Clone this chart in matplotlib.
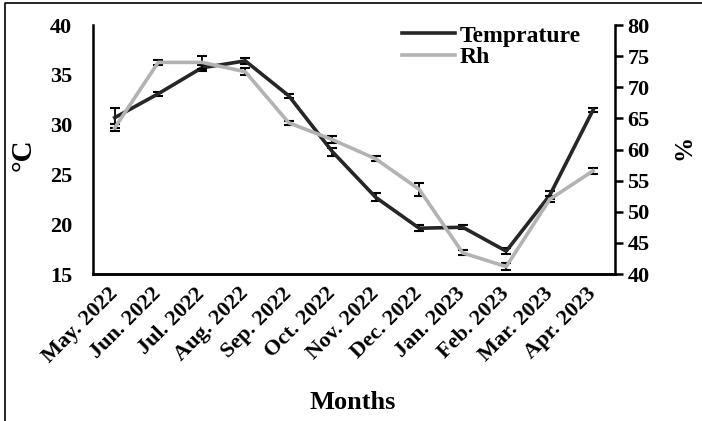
import matplotlib
matplotlib.use("Agg")
import matplotlib.pyplot as plt
from matplotlib.lines import Line2D

months = ["May. 2022", "Jun. 2022", "Jul. 2022", "Aug. 2022", "Sep. 2022", "Oct. 2022",
          "Nov. 2022", "Dec. 2022", "Jan. 2023", "Feb. 2023", "Mar. 2023", "Apr. 2023"]
temp = [30.7, 33.1, 35.7, 36.4, 32.9, 27.3, 22.7, 19.6, 19.7, 17.3, 22.9, 31.5]
temp_err = [1.0, 0.2, 0.3, 0.3, 0.2, 0.4, 0.4, 0.3, 0.2, 0.3, 0.4, 0.2]
rh = [63.5, 74.0, 74.0, 72.5, 64.3, 61.6, 58.5, 53.6, 43.4, 41.2, 52.0, 56.6]
rh_err = [0.6, 0.4, 1.1, 0.6, 0.3, 0.5, 0.4, 1.0, 0.4, 0.6, 0.5, 0.5]

plt.rcParams["font.family"] = "Liberation Serif"
plt.rcParams["font.weight"] = "bold"

fig = plt.figure(figsize=(7.02, 4.21), dpi=100)
ax = fig.add_axes([0.1325, 0.349, 0.7435, 0.5916])
ax2 = ax.twinx()

x = list(range(len(months)))

# error bars first, lines on top
ax.errorbar(x, temp, yerr=temp_err, fmt="none", ecolor="black", elinewidth=1.3,
            capsize=3.6, capthick=1.5, zorder=1)
l1, = ax.plot(x, temp, color="#262626", lw=2.6, label="Temprature", zorder=2)
ax2.errorbar(x, rh, yerr=rh_err, fmt="none", ecolor="black", elinewidth=1.3,
             capsize=3.6, capthick=1.5, zorder=1)
l2, = ax2.plot(x, rh, color="#b3b3b3", lw=2.6, label="Rh", zorder=2)

ax.set_xlim(-0.5, len(months) - 0.5)
ax.set_ylim(15, 40)
ax2.set_ylim(40, 80)
ax.set_yticks(range(15, 41, 5))
ax2.set_yticks(range(40, 81, 5))

for a in (ax, ax2):
    a.spines["top"].set_visible(False)
    for s in a.spines.values():
        s.set_linewidth(1.8)
ax2.spines["left"].set_visible(False)
ax.spines["right"].set_visible(False)

ax.tick_params(axis="y", length=0, pad=15, labelsize=16)
ax.tick_params(axis="x", length=0, pad=12)
ax2.tick_params(axis="y", direction="out", length=6, width=1.8, pad=3, labelsize=16)

ax.set_xticks(x)
ax.set_xticklabels(months, rotation=45, ha="right", va="center",
                   rotation_mode="anchor", fontsize=16, fontweight="bold")
for lab in ax.get_yticklabels() + ax2.get_yticklabels():
    lab.set_fontweight("bold")

ax.set_ylabel("°C", fontsize=21, fontweight="bold")
ax.yaxis.set_label_coords(-0.108, 0.48)
ax2.set_ylabel("%", fontsize=18, fontweight="bold")
ax2.yaxis.set_label_coords(1.11, 0.51)
ax.set_xlabel("Months", fontsize=19, fontweight="bold")
ax.xaxis.set_label_coords(0.498, -0.47)

ax.legend(handles=[l1, l2], loc="upper left", bbox_to_anchor=(0.592, 1.0), frameon=False,
          fontsize=17, handlelength=2.25, handletextpad=0.2, labelspacing=0.0,
          borderaxespad=0, borderpad=0)

# outer frame: only top and left edges show in the original
fig.add_artist(Line2D([0.007, 0.007, 1.0], [0.0, 0.993, 0.993], transform=fig.transFigure,
                      color="black", lw=1.2))

fig.savefig("out.png", dpi=100)
